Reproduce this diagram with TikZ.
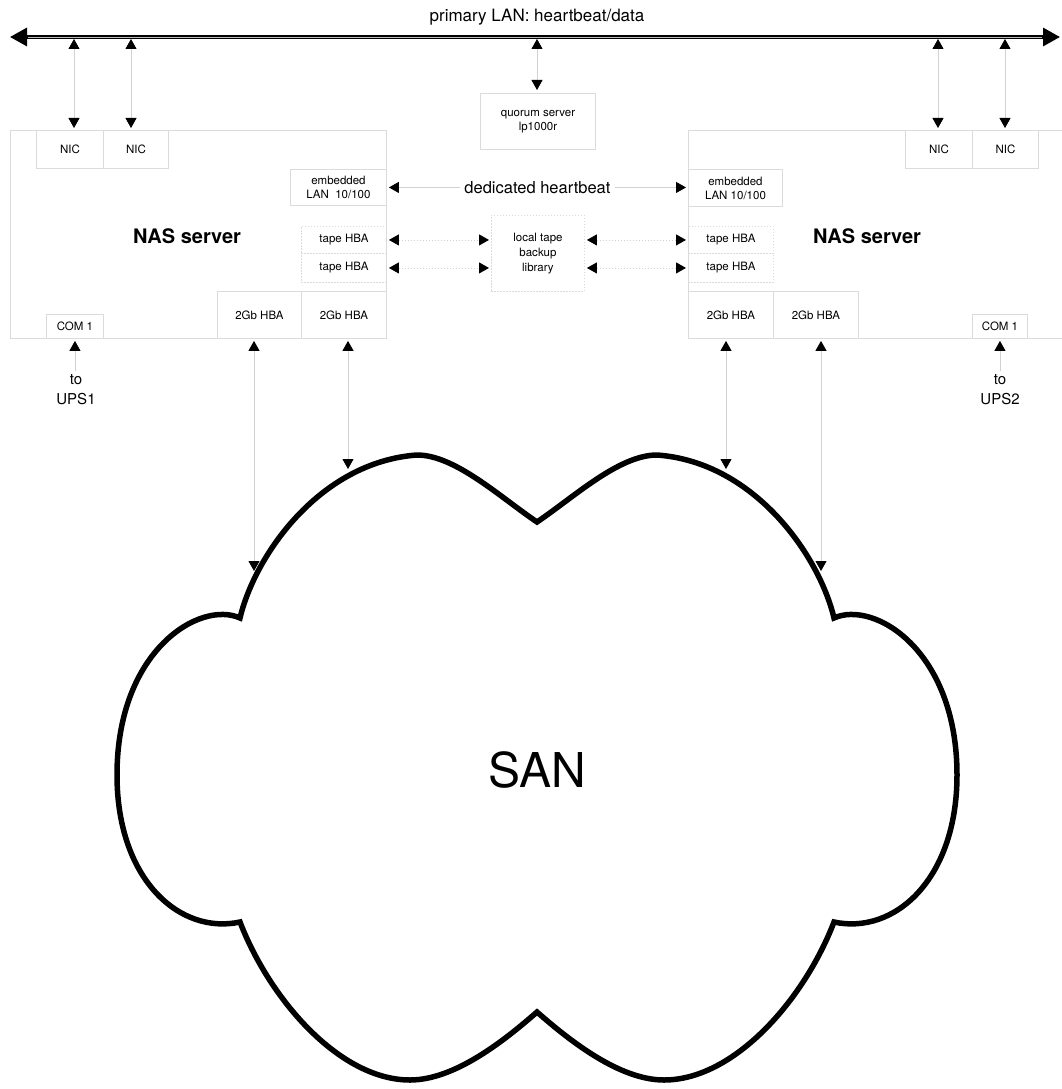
\documentclass[tikz,border=0pt]{standalone}
\usepackage{fontspec}
\setmainfont{TeX Gyre Heros}
\usetikzlibrary{arrows.meta}
\definecolor{boxgray}{gray}{0.86}
\definecolor{linegray}{gray}{0.82}
\begin{document}
\begin{tikzpicture}[x=1pt,y=-1pt,
  >={Triangle[width=11pt,length=10pt,color=black]},
  box/.style={draw=boxgray, line width=0.9pt, inner sep=0pt, anchor=north west, align=center, font=\fontsize{11.5}{14}\selectfont},
  dbox/.style={box, dash pattern=on 1.5pt off 1.5pt},
  conn/.style={draw=linegray, line width=0.9pt},
  both/.style={conn, <->},
  dboth/.style={conn, <->, dash pattern=on 1.5pt off 1.5pt},
  upar/.style={conn, ->},
  title/.style={font=\bfseries\fontsize{20}{24}\selectfont},
  upstxt/.style={font=\fontsize{15}{20}\selectfont, align=center}
]
\useasboundingbox (0,0) rectangle (1062,1089);

% primary LAN
\coordinate (lanL) at (10,37);
\coordinate (lanR) at (1060,37);
\draw[line width=3.2pt, {Triangle[width=18pt,length=17pt]}-{Triangle[width=18pt,length=17pt]}] (lanL) -- (lanR);
\draw[gray!55, line width=0.7pt] (28,37) -- (1042,37);
\node[font=\fontsize{17}{20}\selectfont] (lantxt) at (537,17) {primary LAN: heartbeat/data};
\coordinate (p1) at (74,37);
\coordinate (p2) at (131,37);
\coordinate (pq) at (537,37);
\coordinate (p3) at (938,37);
\coordinate (p4) at (1005,37);

% left server
\node[box, minimum width=376pt, minimum height=208pt] (LS) at (10,130) {};
\node[box, minimum width=67pt, minimum height=38pt] (nicL1) at (36,130) {NIC};
\node[box, minimum width=65pt, minimum height=38pt] (nicL2) at (103,130) {NIC};
\node[box, minimum width=96pt, minimum height=36pt] (embL) at (290,169) {embedded\\LAN\ \ 10/100};
\node[dbox, minimum width=85pt, minimum height=27pt] (tapeL1) at (301,226) {tape HBA};
\node[dbox, minimum width=85pt, minimum height=29pt] (tapeL2) at (301,253) {tape HBA};
\node[box, minimum width=84pt, minimum height=47pt] (hbaL1) at (217,291) {2Gb HBA};
\node[box, minimum width=85pt, minimum height=47pt] (hbaL2) at (301,291) {2Gb HBA};
\node[box, minimum width=57pt, minimum height=24pt] (comL) at (46,314) {COM 1};
\node[title] (lsname) at (187,236) {NAS server};

% right server
\begin{scope}
\clip (0,0) rectangle (1062,1089);
\node[box, minimum width=380pt, minimum height=208pt] (RS) at (688,130) {};
\end{scope}
\node[box, minimum width=67pt, minimum height=38pt] (nicR1) at (905,130) {NIC};
\node[box, minimum width=66pt, minimum height=38pt] (nicR2) at (972,130) {NIC};
\node[box, minimum width=94pt, minimum height=37pt] (embR) at (688,169) {embedded\\LAN 10/100};
\node[dbox, minimum width=85pt, minimum height=27pt] (tapeR1) at (688,226) {tape HBA};
\node[dbox, minimum width=85pt, minimum height=29pt] (tapeR2) at (688,253) {tape HBA};
\node[box, minimum width=85pt, minimum height=47pt] (hbaR1) at (688,291) {2Gb HBA};
\node[box, minimum width=85pt, minimum height=47pt] (hbaR2) at (773,291) {2Gb HBA};
\node[box, minimum width=55pt, minimum height=24pt] (comR) at (972,314) {COM 1};
\node[title] (rsname) at (867,236) {NAS server};

% middle
\node[box, minimum width=115pt, minimum height=56pt] (quorum) at (480,93) {quorum server\\lp1000r};
\node[dbox, minimum width=93pt, minimum height=76pt, font=\fontsize{11.5}{15}\selectfont] (lib) at (491,215) {local tape\\backup\\library};

% LAN to NICs and quorum
\draw[both, shorten <=2pt, shorten >=2pt] (p1) -- (p1 |- nicL1.north);
\draw[both, shorten <=2pt, shorten >=2pt] (p2) -- (p2 |- nicL2.north);
\draw[both, shorten <=2pt, shorten >=2pt] (p3) -- (p3 |- nicR1.north);
\draw[both, shorten <=2pt, shorten >=2pt] (p4) -- (p4 |- nicR2.north);
\draw[both, shorten <=2pt, shorten >=3pt] (pq) -- (pq |- quorum.north);

% dedicated heartbeat
\draw[both, shorten <=2pt, shorten >=2pt] (embL.east) -- node[fill=white, inner sep=4pt, font=\fontsize{16.5}{20}\selectfont] (hbtxt) {dedicated heartbeat} (embL.east -| embR.west);

% tape links
\draw[dboth, shorten <=2pt, shorten >=2pt] (tapeL1.east) -- (tapeL1.east -| lib.west);
\draw[dboth, shorten <=2pt, shorten >=2pt] (tapeL2.east) -- (tapeL2.east -| lib.west);
\draw[dboth, shorten <=2pt, shorten >=2pt] (lib.east |- tapeR1.west) -- (tapeR1.west);
\draw[dboth, shorten <=2pt, shorten >=2pt] (lib.east |- tapeR2.west) -- (tapeR2.west);

% UPS
\node[upstxt] (ups1) at (76,390) {to\\UPS1};
\node[upstxt] (ups2) at (1000,390) {to\\UPS2};
\draw[upar, shorten >=2pt] (ups1.north -| comL.south) -- (comL.south);
\draw[upar, shorten >=2pt] (ups2.north -| comR.south) -- (comR.south);

% SAN cloud
\draw[line width=5.5pt, line join=miter, miter limit=20] (240,618)
  .. controls (255,555) and (320,462) .. (417,455)
  .. controls (455,455) and (500,497) .. (537,522)
  .. controls (574,497) and (619,455) .. (657,455)
  .. controls (754,462) and (819,555) .. (834,618)
  .. controls (874,600) and (957,650) .. (957,775)
  .. controls (957,880) and (894,935) .. (834,922)
  .. controls (804,1000) and (734,1080) .. (664,1080)
  .. controls (619,1080) and (569,1040) .. (537,1012)
  .. controls (505,1040) and (455,1080) .. (410,1080)
  .. controls (340,1080) and (270,1000) .. (240,922)
  .. controls (180,935) and (117,880) .. (117,775)
  .. controls (117,650) and (200,600) .. (240,618) -- cycle;
\node[font=\fontsize{48}{56}\selectfont] (san) at (537,770) {SAN};

% HBA to SAN
\coordinate (s1) at (254,571);
\coordinate (s2) at (348,469);
\coordinate (s3) at (726,469);
\coordinate (s4) at (821,571);
\draw[both, shorten <=2pt] (s1 |- hbaL1.south) -- (s1);
\draw[both, shorten <=2pt] (s2 |- hbaL2.south) -- (s2);
\draw[both, shorten <=2pt] (s3 |- hbaR1.south) -- (s3);
\draw[both, shorten <=2pt] (s4 |- hbaR2.south) -- (s4);
\end{tikzpicture}
\end{document}
